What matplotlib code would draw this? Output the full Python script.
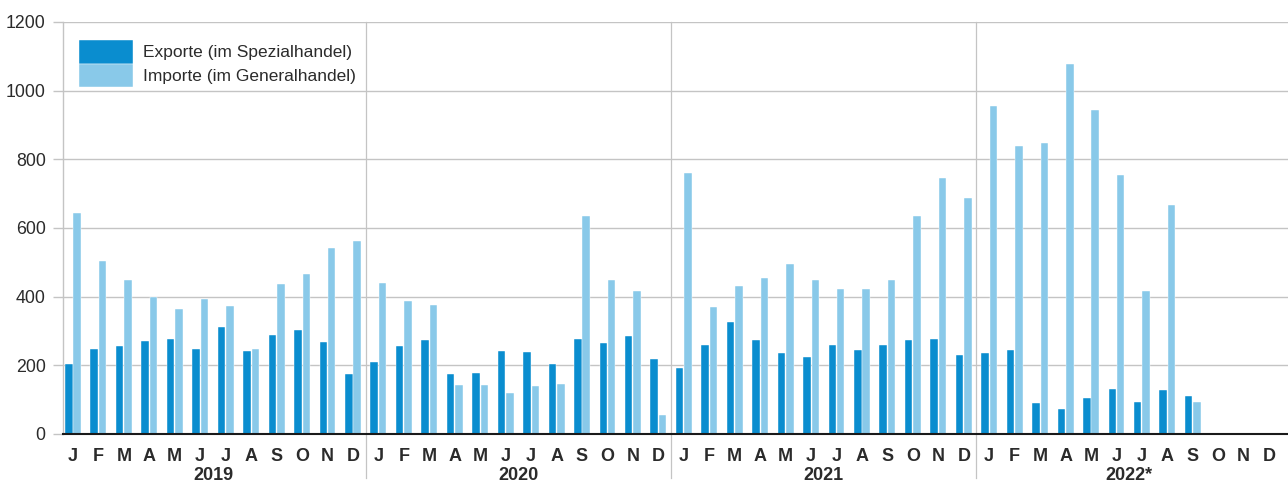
import numpy as np
import matplotlib.pyplot as plt
import matplotlib.transforms as mtransforms

plt.rcParams['font.family'] = ['Liberation Sans', 'DejaVu Sans']

# Monatswerte 2019 - 2022 (2022 nur bis September)
months = ['J', 'F', 'M', 'A', 'M', 'J', 'J', 'A', 'S', 'O', 'N', 'D']
years = ['2019', '2020', '2021', '2022*']

exports_2019 = [205, 248, 257, 272, 277, 247, 312, 243, 287, 302, 267, 176]
exports_2020 = [210, 256, 274, 176, 177, 242, 238, 205, 277, 265, 284, 218]
exports_2021 = [193, 260, 327, 274, 237, 225, 260, 245, 260, 274, 278, 230]
exports_2022 = [235, 246, 89, 72, 105, 131, 94, 127, 110, np.nan, np.nan, np.nan]

imports_2019 = [645, 505, 450, 400, 363, 392, 372, 248, 436, 465, 543, 562]
imports_2020 = [441, 388, 376, 142, 143, 120, 139, 146, 635, 448, 417, 55]
imports_2021 = [760, 370, 430, 453, 495, 449, 421, 422, 450, 634, 746, 688]
imports_2022 = [955, 840, 848, 1077, 944, 755, 417, 668, 92, np.nan, np.nan, np.nan]

exports = np.array(exports_2019 + exports_2020 + exports_2021 + exports_2022, dtype=float)
imports = np.array(imports_2019 + imports_2020 + imports_2021 + imports_2022, dtype=float)

c_exp = '#0a8dcf'
c_imp = '#89c9e9'
grid_c = '#c4c4c4'
text_c = '#2b2b2b'

fig = plt.figure(figsize=(12.88, 4.82), dpi=100)
ax = fig.add_axes([63 / 1288, 1 - 434 / 482, 1 - 63 / 1288, (434 - 22) / 482])

x = np.arange(len(exports))
w = 0.295
off = 0.165
ax.bar(x - off, exports, width=w, color=c_exp, edgecolor='white', linewidth=0.3,
       label='Exporte (im Spezialhandel)', zorder=3)
ax.bar(x + off, imports, width=w, color=c_imp, edgecolor='white', linewidth=0.3,
       label='Importe (im Generalhandel)', zorder=3)

ax.set_xlim(-0.393, 47.74)
ax.set_ylim(0, 1200)
ax.set_yticks(range(0, 1201, 200))
ax.yaxis.grid(True, color=grid_c, linewidth=1.0, zorder=0)
ax.set_axisbelow(True)

ax.set_xticks(x)
ax.set_xticklabels(months * 4, fontsize=13, fontweight='bold', color=text_c)
ax.tick_params(axis='x', length=0, pad=10)
ax.tick_params(axis='y', length=7.5, width=1.0, color=grid_c, labelsize=12.8,
               labelcolor=text_c, pad=5)

for s in ['top', 'right']:
    ax.spines[s].set_visible(False)
ax.spines['left'].set_color(grid_c)
ax.spines['left'].set_linewidth(1.0)
ax.spines['bottom'].set_color('#1a1a1a')
ax.spines['bottom'].set_linewidth(1.5)
ax.spines['bottom'].set_zorder(4)

# Jahrestrenner, reichen bis unter die Achse
trans = mtransforms.blended_transform_factory(ax.transData, ax.transAxes)
for b in [11.5, 23.5, 35.5]:
    ax.plot([b, b], [-0.107, 1.0], transform=trans, color=grid_c, linewidth=0.9,
            clip_on=False, zorder=1)

for i, yr in enumerate(years):
    ax.text(i * 12 + 5.5, -0.1, yr, transform=trans, ha='center', va='center',
            fontsize=13, fontweight='bold', color=text_c)

ax.legend(loc='upper left', bbox_to_anchor=(0.013, 0.956), frameon=False,
          fontsize=12.5, handlelength=3.1, handleheight=1.7, labelspacing=0.0,
          handletextpad=0.6, borderpad=0, borderaxespad=0, labelcolor=text_c)

fig.savefig('out.png', dpi=100)
